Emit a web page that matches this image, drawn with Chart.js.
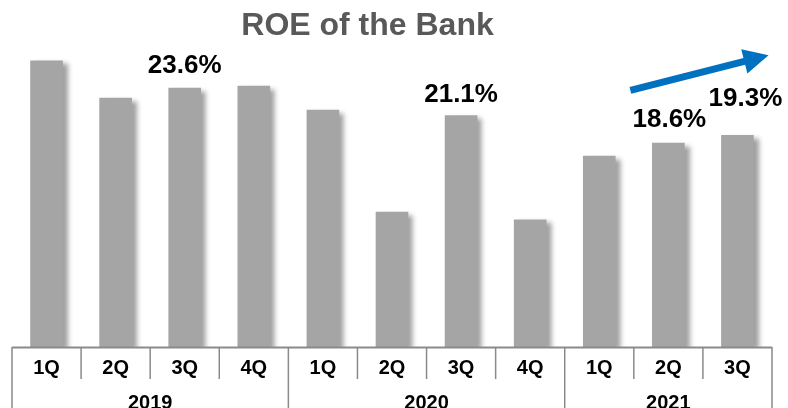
<!DOCTYPE html>
<html><head><meta charset="utf-8">
<script src="https://cdn.jsdelivr.net/npm/chart.js@4"></script>
<style>html,body{margin:0;padding:0;background:#fff;overflow:hidden;} #wrap{width:788px;height:408px;position:relative;}</style>
</head><body><div id="wrap"><canvas id="c" width="788" height="408"></canvas></div>
<script>
const titleText = 'ROE of the Bank';
const quarters = ['1Q','2Q','3Q','4Q','1Q','2Q','3Q','4Q','1Q','2Q','3Q'];
const years = ['2019','2020','2021'];
const yearSpans = [4, 4, 3];
const roe = [26.1, 22.7, 23.6, 23.8, 21.6, 12.3, 21.1, 11.6, 17.4, 18.6, 19.3];
const labelledIdx = [2, 6, 9, 10];
const arrowFrom = [8.45, 23.4];
const arrowTo = [10.45, 26.6];

const FONT = "'Liberation Sans', Arial, sans-serif";
const labelOffsets = {2:{dx:0,dy:15}, 6:{dx:0,dy:14}, 9:{dx:1,dy:16}, 10:{dx:8,dy:29}};

const shadowPlugin = {
  id:'shadow',
  beforeDatasetsDraw(chart){
    const ctx = chart.ctx; ctx.save();
    ctx.shadowColor = 'rgba(0,0,0,0.38)';
    ctx.shadowBlur = 5; ctx.shadowOffsetX = 5; ctx.shadowOffsetY = 3;
  },
  afterDatasetsDraw(chart){ chart.ctx.restore(); }
};

const decoPlugin = {
  id:'deco',
  afterDraw(chart){
    const ctx = chart.ctx, xs = chart.scales.x, ys = chart.scales.y;
    const area = chart.chartArea;
    const H = chart.height;
    // title
    ctx.save();
    ctx.font = 'bold 32px ' + FONT; ctx.fillStyle = '#595959';
    ctx.textAlign = 'center'; ctx.textBaseline = 'alphabetic';
    ctx.fillText(titleText, 367.5, 35);
    ctx.restore();
    // axis line and separators
    ctx.save();
    ctx.strokeStyle = '#8a8a8a';
    ctx.lineWidth = 2;
    ctx.beginPath(); ctx.moveTo(xs.left, area.bottom + 0.5); ctx.lineTo(xs.right, area.bottom + 0.5); ctx.stroke();
    ctx.lineWidth = 1.5;
    let cum = 0; const yearB = new Set([0]);
    yearSpans.forEach(s => { cum += s; yearB.add(cum); });
    for (let i = 0; i <= quarters.length; i++) {
      const x = xs.getPixelForValue(i - 0.5);
      const long = yearB.has(i);
      ctx.beginPath(); ctx.moveTo(x, area.bottom); ctx.lineTo(x, long ? H : area.bottom + 32); ctx.stroke();
    }
    ctx.restore();
    // year labels
    ctx.save();
    ctx.font = 'bold 20px ' + FONT; ctx.fillStyle = '#000';
    ctx.textAlign = 'center'; ctx.textBaseline = 'alphabetic';
    let start = 0;
    years.forEach((y, k) => {
      const a = xs.getPixelForValue(start - 0.5), b = xs.getPixelForValue(start + yearSpans[k] - 0.5);
      ctx.fillText(y, (a + b) / 2, 409);
      start += yearSpans[k];
    });
    ctx.restore();
    // value labels
    const meta = chart.getDatasetMeta(0);
    ctx.save();
    ctx.font = 'bold 26px ' + FONT; ctx.fillStyle = '#000';
    ctx.textAlign = 'center'; ctx.textBaseline = 'alphabetic';
    labelledIdx.forEach(i => {
      const bar = meta.data[i]; const o = labelOffsets[i];
      ctx.fillText(roe[i].toFixed(1) + '%', bar.x + o.dx, bar.y - o.dy);
    });
    ctx.restore();
    // trend arrow
    const x0 = xs.getPixelForValue(arrowFrom[0]), y0 = ys.getPixelForValue(arrowFrom[1]);
    const x1 = xs.getPixelForValue(arrowTo[0]), y1 = ys.getPixelForValue(arrowTo[1]);
    const ang = Math.atan2(y1 - y0, x1 - x0);
    const headLen = 25, headW = 12.5, shaftW = 3.5;
    const len = Math.hypot(x1 - x0, y1 - y0);
    ctx.save();
    ctx.translate(x0, y0); ctx.rotate(ang);
    ctx.fillStyle = '#0070C0';
    ctx.beginPath();
    ctx.moveTo(0, -shaftW); ctx.lineTo(len - headLen, -shaftW); ctx.lineTo(len - headLen, -headW);
    ctx.lineTo(len, 0); ctx.lineTo(len - headLen, headW); ctx.lineTo(len - headLen, shaftW);
    ctx.lineTo(0, shaftW); ctx.closePath(); ctx.fill();
    ctx.restore();
  }
};

new Chart(document.getElementById('c'), {
  type: 'bar',
  data: { labels: quarters, datasets: [{ data: roe, backgroundColor: '#A5A5A5', borderWidth: 0, barThickness: 32 }] },
  options: {
    responsive: false, animation: false, devicePixelRatio: 1,
    layout: { padding: { top: 18, left: 12, right: 16, bottom: 0 } },
    plugins: { legend: { display: false }, tooltip: { enabled: false }, title: { display: false } },
    scales: {
      y: { display: false, min: 0, max: 30 },
      x: {
        offset: true,
        grid: { display: false, drawTicks: false },
        border: { display: false },
        ticks: { color: '#000', font: { family: FONT, size: 20, weight: 'bold' }, padding: 9, maxRotation: 0, autoSkip: false },
        afterFit(scale) { scale.height = 61; }
      }
    }
  },
  plugins: [shadowPlugin, decoPlugin]
});
</script></body></html>
